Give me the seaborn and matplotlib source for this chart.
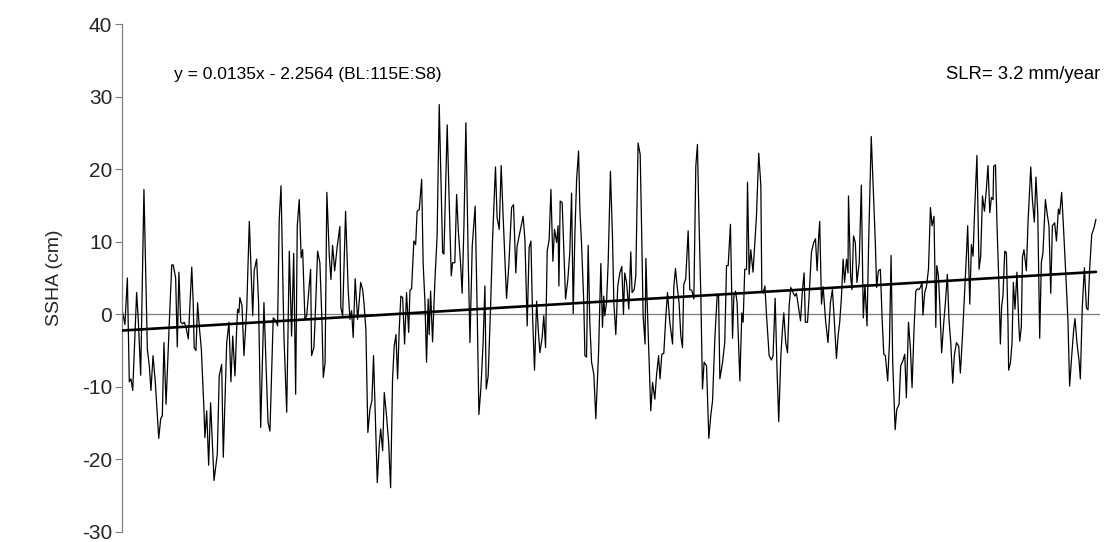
import matplotlib
matplotlib.use("Agg")
import matplotlib.pyplot as plt
import seaborn as sns
import pandas as pd
import numpy as np

sns.set_theme(style="white")
plt.rcParams["font.family"] = ["Liberation Sans", "DejaVu Sans"]
plt.rcParams["axes.unicode_minus"] = False

# Time step (record number) and sea surface height anomaly (cm)
step = [
    1, 2.8, 4.3, 5.5, 6.5, 7.6, 10.0, 11.0, 12.5, 14.5, 16.6, 17.8, 18.8, 20.1, 21.5,
    23.6, 24.8, 25.8, 26.8, 28.1, 30.1, 31.6, 32.5, 34.0, 35.0, 36.0, 37.1, 38.3, 39.3,
    40.3, 41.8, 43.9, 44.8, 45.4, 46.5, 47.5, 48.5, 49.8,
    51.4, 52.0, 53.1, 54.3, 55.5, 57.6, 59.6, 60.8, 62.3, 63.3, 65.4, 66.8, 68.0, 69.1,
    70.5, 71.5, 72.1, 72.9, 73.5, 74.8, 76.0, 77.7, 79.3, 81.4, 82.3, 83.8, 85.0, 86.3,
    88.3, 89.5, 90.8, 92.0, 94.0, 95.7, 96.7, 97.7, 98.8,
    100.6, 102.3, 103.9, 105.3, 106.6, 107.8, 108.8, 110.0, 111.2, 112.1, 113.5, 114.6,
    117.0, 117.6, 119.0, 119.7, 121.3, 122.7, 124.0, 124.8, 125.9, 127.0, 128.5, 129.5,
    130.5, 131.8, 133.4, 135.0, 135.6, 136.7, 138.5, 140.1, 141.2, 142.2, 143.2, 144.4,
    145.9, 146.5, 147.8, 149.0, 149.8,
    150.4, 151.0, 152.2, 153.5, 154.7, 155.7, 158.0, 159.2, 160.1, 161.3, 162.3, 163.7,
    165.0, 166.2, 167.4, 168.4, 169.5, 170.5, 171.5, 172.5, 173.6, 174.8, 176.0, 177.3,
    178.1, 179.1, 180.5, 181.6, 182.5, 183.8, 185.3, 186.2, 187.3, 188.3, 189.3, 189.9,
    190.8, 192.0, 193.4, 194.8, 196.1,
    198.2, 199.0, 201.0, 202.2, 203.5, 204.3, 205.7, 206.8, 207.8, 209.2, 210.2, 211.3,
    212.5, 213.9, 215.0, 216.4, 218.2, 219.5, 220.5, 221.7, 223.1, 224.2, 225.0, 226.2,
    227.7, 228.9, 230.7, 231.7, 233.0, 234.2, 235.4, 237.5, 238.9, 240.6, 241.8, 243.2,
    244.0,
    247.7, 248.8, 250.2, 251.4, 252.5, 253.5, 254.7, 256.0, 257.0, 258.0, 259.4, 260.4,
    261.5, 262.5, 263.7, 264.8, 266.0, 267.0, 268.3, 269.2, 269.7, 270.5, 271.7, 272.7,
    273.8, 275.2, 276.4, 277.5, 278.5, 279.5, 280.6, 281.8, 282.6, 283.6, 285.0, 285.7,
    286.7, 287.7, 288.7, 289.8, 291.2, 292.4, 294.1, 295.5, 296.5, 297.3,
    297.9, 299.0, 300.0, 301.4, 302.7, 303.5, 304.7, 305.9, 307.2, 308.4, 309.4, 310.2,
    311.3, 312.7, 313.9, 314.7, 316.0, 317.0, 318.4, 319.7, 320.5, 321.5, 322.7, 323.2,
    324.0, 325.2, 326.2, 327.3, 328.7, 329.7, 331.0, 331.9, 333.0, 334.2, 335.5, 336.5,
    337.9, 339.6, 340.4, 341.4, 342.4, 343.6, 344.7, 345.7, 346.5,
    347.7, 349.2, 350.2, 351.4, 352.7, 353.9, 354.9, 355.9, 357.0, 358.0, 359.0, 360.5,
    361.9, 363.1, 364.2, 365.6, 367.0, 367.9, 368.7, 370.3, 371.7, 372.8, 373.8, 375.2,
    376.0, 376.5, 377.3, 378.3, 379.3, 381.0, 382.2, 383.0, 384.0, 385.1, 385.7, 386.7,
    387.7, 389.1, 391.2, 392.6,
    393.9, 394.5, 395.3, 396.4, 397.4, 399.0, 400.4, 401.4, 402.7, 403.9, 404.9, 406.2,
    407.2, 408.0, 409.2, 410.3, 411.3, 412.3, 413.7, 414.8, 415.8, 417.0, 418.3, 419.5,
    420.5, 421.3, 422.6, 423.5, 425.0, 426.4, 427.5, 428.5, 429.5, 430.1, 431.2, 432.2,
    433.8, 435.2, 436.7, 437.9, 438.9, 440.4, 441.4, 442.4, 443.5, 444.5,
    445.4, 446.6, 447.5, 447.8, 449.1, 449.9, 450.9, 452.0, 453.0, 454.4, 455.7, 456.9,
    457.9, 459.2, 460.2, 461.8, 463.1, 464.3, 465.1, 466.2, 467.4, 468.5, 469.5, 470.5,
    471.9, 473.0, 474.0, 475.0, 476.5, 477.5, 478.9, 479.9, 481.3, 482.4, 483.4, 484.7,
    485.9, 486.9, 488.1, 489.2, 490.2, 491.2, 492.2, 493.0, 493.6,
    494.7, 495.8, 497.0, 498.2, 499.2, 500.4, 501.5, 502.1, 503.1, 503.9, 505.1, 506.4,
    507.4, 508.6, 509.6, 510.7, 511.9, 512.9, 514.2, 515.6, 516.6, 517.9, 519.3, 520.3,
    521.1, 522.4, 523.4, 524.4, 525.4, 526.8, 528.1, 529.1, 530.2, 531.4, 532.6, 533.6,
    534.7, 535.7, 536.7, 537.1, 538.2, 539.1, 540.4, 541.2, 542.0,
    542.8, 543.9, 544.9, 545.9, 546.3, 547.4, 548.4, 549.2, 550.2, 551.4, 552.5, 553.1,
    554.1, 554.8, 555.7, 557.2, 558.2, 559.9, 560.9, 562.1, 563.1, 564.2, 565.4, 566.4,
    567.4, 568.9, 569.9, 571.1, 572.2, 573.2, 574.6, 575.7, 576.9, 577.7, 578.9, 580.2,
    581.8, 582.8, 583.8, 585.1, 586.3, 587.1, 588.3, 589.6, 590.4, 591.6, 592.9, 594.1,
    595.1, 596.1, 597.4, 598.8, 600.0,
]

ssha = [
    0.7, -1.4, 5.0, -9.3, -8.9, -10.5, 3.0, -0.7, -8.4, 17.2, -4.8, -7.1, -10.5, -5.7, -9.4,
    -17.1, -14.4, -14.0, -3.9, -12.4, -1.1, 6.8, 6.8, 5.0, -4.5, 5.8, -1.1, -1.3, -1.1,
    -1.7, -3.4, 6.5, 1.6, -4.6, -5.0, 1.6, -1.6, -4.8,
    -13.1, -17.0, -13.3, -20.8, -12.2, -22.9, -19.3, -8.5, -6.9, -19.7, -3.9, -1.1, -9.3, -3.0,
    -8.5, -2.1, 0.7, 0.2, 2.3, 1.2, -5.7, 0.7, 12.8, -0.2, 6.0, 7.6, 1.6, -15.6,
    1.6, -6.2, -14.9, -16.1, -0.5, -0.9, -1.6, 13.1, 17.7,
    -3.0, -13.5, 8.7, -3.0, 8.4, -11.0, 12.2, 15.8, 7.8, 8.9, -0.7, -0.2,
    6.2, -5.7, -4.6, -1.1, 8.7, 7.1, -1.1, -8.7, -6.7, 16.8, 8.0, 4.8,
    9.5, 6.0, 9.4, 12.1, 0.9, -0.2, 14.2, 3.4, -0.7, 0.5, -3.2, 4.9,
    -0.7, 0.7, 4.4, 3.4, 1.6,
    -0.2, -2.1, -16.3, -13.1, -11.9, -5.7, -23.2, -18.1, -15.8, -18.8, -10.8, -14.0,
    -17.7, -23.9, -8.9, -4.4, -2.8, -8.9, -2.1, 2.5, 2.3, -4.1, 3.0, -2.5,
    3.3, 3.5, 10.1, 9.6, 14.2, 14.4, 18.6, 7.1, 1.8, -6.6, 2.1, -2.8,
    3.2, -3.8, 4.4, 10.8, 28.9,
    8.5, 8.3, 26.1, 15.8, 5.3, 7.1, 7.1, 16.5, 11.7, 7.1, 2.9, 12.2,
    26.4, 8.0, -3.9, 9.4, 14.9, -0.2, -13.8, -10.3, -3.9, 3.9, -10.3, -8.5,
    1.1, 10.3, 20.3, 13.3, 11.7, 20.5, 13.5, 2.2, 6.7, 14.7, 15.1, 5.7,
    9.4,
    13.5, 10.3, -1.6, 9.2, 10.1, -0.2, -7.7, 1.8, -2.1, -5.3, -3.2, -0.2,
    -4.6, 8.7, 10.3, 17.2, 7.3, 11.7, 9.9, 12.2, 3.9, 15.6, 15.4, 8.9,
    2.1, 4.8, 8.5, 16.7, 0.1, 10.8, 18.6, 22.5, 14.4, 9.9, 1.6, -5.7,
    -5.9, 9.5, -1.1, -6.6, -8.3, -14.4, -5.3, 7.0, -1.8, 2.5,
    -0.2, 1.6, 7.1, 19.7, 10.3, 1.6, -2.8, 3.9, 5.7, 6.6, 0.0, 5.7,
    4.4, 0.7, 8.6, 3.0, 3.4, 5.3, 23.6, 22.0, 12.6, -0.2, -4.1, 7.7,
    1.6, -6.7, -13.3, -9.4, -11.7, -8.5, -5.7, -8.9, -5.5, -5.4, -0.2, 3.0,
    -1.1, -4.1, 3.9, 6.3, 3.9, 1.6, -3.0, -4.6, 4.1,
    4.9, 11.5, 3.4, 3.3, 2.1, 20.4, 23.4, 12.6, 2.5, -10.3, -6.6, -7.1,
    -17.1, -14.0, -11.9, -3.4, 2.5, 2.5, -8.9, -6.7, -3.9, 6.7, 6.7, 12.4,
    2.5, -3.3, 2.5, 3.2, 1.6, -9.2, 0.2, -1.1, 6.2, 6.2, 18.2, 5.5,
    8.9, 5.8, 13.5, 22.2,
    17.7, 3.1, 2.9, 3.9, -0.2, -5.7, -6.3, -5.7, 2.2, -8.0, -14.8, -5.7,
    -2.1, 0.2, -3.9, -5.3, 1.1, 3.7, 3.0, 2.5, 2.9, 1.1, -0.9, 3.4,
    5.7, -1.1, -1.1, 2.1, 8.5, 9.9, 10.4, 6.0, 10.8, 12.8, 1.4, 3.8,
    -1.1, -3.9, 1.6, 3.4, -0.2, -6.1, -3.0, -1.1, 2.5, 7.6,
    4.4, 7.6, 5.7, 16.3, 5.3, 3.4, 10.8, 9.9, 4.4, 7.1, 17.8, -0.5,
    4.1, -1.6, 9.9, 24.5, 16.7, 9.9, 3.7, 6.0, 6.2, -0.7, -5.5, -5.7,
    -9.2, -3.9, 8.1, -6.7, -15.9, -13.1, -12.4, -7.1, -6.4, -5.5, -11.5, -1.1,
    -4.8, -10.1, -2.1, 3.2, 3.5, 3.4, 3.8, 4.4, -0.1,
    3.0, 3.9, 6.2, 14.7, 12.2, 13.5, -1.8, 6.7, 5.3, 1.6, -5.3, -1.1,
    1.6, 5.5, -0.7, -3.9, -9.5, -5.7, -3.9, -4.4, -8.1, -3.0, 3.4, 8.0,
    12.2, 1.4, 9.6, 8.0, 14.4, 21.9, 6.2, 8.0, 16.3, 14.2, 17.2, 20.5,
    14.0, 16.1, 15.8, 20.4, 20.6, 12.6, 3.4, -4.1, 1.1,
    2.5, 8.7, 8.5, -1.1, -7.7, -6.7, -3.9, 4.4, 0.7, 5.8, -1.1, -3.7,
    -1.8, 7.9, 8.9, 6.0, 12.6, 20.3, 15.8, 12.7, 18.9, 14.0, -3.3, 7.1,
    8.5, 15.8, 14.0, 12.2, 2.9, 12.2, 12.6, 10.1, 14.5, 13.8, 16.8, 11.2,
    3.9, -1.1, -9.9, -5.7, -2.1, -0.6, -3.9, -6.4, -8.9, 1.1, 6.4, 0.9,
    0.6, 6.2, 11.0, 11.9, 13.1,
]

# Linear fit reported on the chart
slope = 0.0135
intercept = -2.2564
fit_label = "y = 0.0135x - 2.2564 (BL:115E:S8)"
slr_label = "SLR= 3.2 mm/year"
y_ticks = [-30, -20, -10, 0, 10, 20, 30, 40]

df = pd.DataFrame({"step": step, "ssha": ssha})
trend = pd.DataFrame({"step": [1, 600]})
trend["fit"] = slope * trend["step"] + intercept

fig = plt.figure(figsize=(11.06, 5.42), dpi=100)
ax = fig.add_axes([0.1103, 0.0185, 0.8843, 0.9372])

ax.axhline(0, color="#7f7f7f", linewidth=0.9, zorder=1)
sns.lineplot(data=df, x="step", y="ssha", ax=ax, color="black",
             linewidth=0.9, sort=False, estimator=None, zorder=2)
sns.lineplot(data=trend, x="step", y="fit", ax=ax, color="black",
             linewidth=1.9, zorder=3)

ax.set_xlim(1, 602.5)
ax.set_ylim(-30, 40)
ax.set_yticks(y_ticks)
ax.set_xticks([])
ax.set_xlabel("")
ax.set_ylabel("SSHA (cm)", fontsize=14, labelpad=14)
ax.tick_params(axis="y", direction="out", length=5, width=0.8,
               color="#7f7f7f", labelsize=15, left=True, pad=2)
for side in ("top", "right", "bottom"):
    ax.spines[side].set_visible(False)
ax.spines["left"].set_color("#7f7f7f")
ax.spines["left"].set_linewidth(0.9)

ax.text(0.053, 0.90, fit_label, transform=ax.transAxes,
        fontsize=12.5, ha="left", va="center", color="black")
ax.text(1.0, 0.90, slr_label, transform=ax.transAxes,
        fontsize=13.3, ha="right", va="center", color="black")

fig.savefig("out.png", dpi=100)
